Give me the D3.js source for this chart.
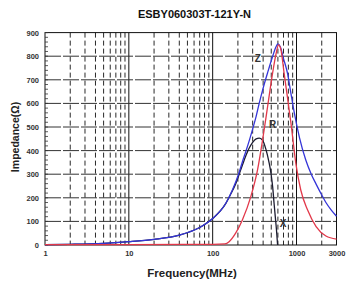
<!DOCTYPE html>
<html>
<head>
<meta charset="utf-8">
<script src="https://cdn.jsdelivr.net/npm/d3@7"></script>
<style>
  body { margin: 0; background: #fff; }
  text { font-family: "Liberation Sans", Arial, sans-serif; }
</style>
</head>
<body>
<div id="chart"></div>
<script>
const title = 'ESBY060303T-121Y-N';
const xTicks = [1, 10, 100, 1000, 3000];
const yTicks = [0, 100, 200, 300, 400, 500, 600, 700, 800, 900];

// Z (blue)
const freqZ = [1, 2, 5, 10, 20, 40, 70, 100, 143, 172, 206, 226, 248, 272, 299, 330, 359, 400, 452, 520, 570, 600, 640, 700, 784, 860, 942, 1085, 1290, 1500, 1713, 2000, 2243, 2600, 3000];
const valZ = [1.5, 3, 7, 14, 24, 42, 74, 112, 176, 233, 305, 352, 395, 440, 490, 545, 600, 665, 730, 800, 840, 852, 840, 790, 725, 640, 560, 455, 360, 300, 258, 212, 180, 148, 122];

// R (red)
const freqR = [1, 10, 100, 140, 157, 188, 226, 285, 343, 394, 452, 518, 570, 610, 650, 712, 784, 859, 982, 1124, 1357, 1713, 2243, 3000];
const valR = [2, 2, 3, 5, 14, 50, 106, 205, 318, 445, 586, 727, 810, 848, 830, 727, 620, 516, 346, 233, 148, 78, 38, 25];

// X (black)
const freqX = [1, 2, 5, 10, 20, 40, 70, 100, 143, 172, 188, 206, 226, 250, 272, 300, 330, 359, 390, 432, 470, 496, 520, 540, 560, 577, 595];
const valX = [1.5, 3, 7, 14, 24, 42, 74, 112, 175, 230, 258, 298, 338, 380, 410, 435, 450, 453, 446, 405, 350, 304, 245, 177, 115, 64, 0];

const width = 348;
const height = 285;
const plotLeft = 45;
const plotRight = 336.5;
const plotTop = 32.6;
const plotBottom = 245;

const svg = d3.select('#chart')
  .append('svg')
  .attr('width', width)
  .attr('height', height);

const x = d3.scaleLog().domain([1, 3000]).range([plotLeft, plotRight]);
const y = d3.scaleLinear().domain([0, 900]).range([plotBottom, plotTop]);

// vertical grid
const minor = [];
[1, 10, 100, 1000].forEach((d) => {
  for (let k = 2; k <= 9; k += 1) {
    if (d * k < 3000) minor.push(d * k);
  }
});
svg.append('g').selectAll('line')
  .data(minor)
  .enter()
  .append('line')
  .attr('x1', (d) => x(d))
  .attr('x2', (d) => x(d))
  .attr('y1', plotTop)
  .attr('y2', plotBottom)
  .attr('stroke', '#111')
  .attr('stroke-width', 0.9)
  .attr('stroke-dasharray', '5,3');

svg.append('g').selectAll('line')
  .data([10, 100, 1000])
  .enter()
  .append('line')
  .attr('x1', (d) => x(d))
  .attr('x2', (d) => x(d))
  .attr('y1', plotTop)
  .attr('y2', plotBottom)
  .attr('stroke', '#111')
  .attr('stroke-width', 1);

// horizontal grid
svg.append('g').selectAll('line')
  .data(yTicks.slice(1, -1))
  .enter()
  .append('line')
  .attr('x1', plotLeft)
  .attr('x2', plotRight)
  .attr('y1', (d) => y(d))
  .attr('y2', (d) => y(d))
  .attr('stroke', '#333')
  .attr('stroke-width', 1)
  .attr('stroke-dasharray', '16,2');

// frame
svg.append('rect')
  .attr('x', plotLeft)
  .attr('y', plotTop)
  .attr('width', plotRight - plotLeft)
  .attr('height', plotBottom - plotTop)
  .attr('fill', 'none')
  .attr('stroke', '#111')
  .attr('stroke-width', 1);

// minor y ticks
svg.append('g').selectAll('line')
  .data(d3.range(0, 901, 20))
  .enter()
  .append('line')
  .attr('x1', plotLeft)
  .attr('x2', plotLeft + 3)
  .attr('y1', (d) => y(d))
  .attr('y2', (d) => y(d))
  .attr('stroke', '#333')
  .attr('stroke-width', 0.8);

// axes labels
const yAxis = d3.axisLeft(y).tickValues(yTicks).tickSize(0).tickPadding(6);
svg.append('g')
  .attr('transform', `translate(${plotLeft},0)`)
  .call(yAxis)
  .call((g) => g.select('.domain').remove())
  .selectAll('text')
  .attr('font-size', 7.5)
  .attr('font-weight', 'bold')
  .attr('fill', '#333')
  .attr('font-family', '"Liberation Sans", Arial, sans-serif');

const xAxis = d3.axisBottom(x).tickValues(xTicks).tickFormat(d3.format('d')).tickSize(0).tickPadding(6);
svg.append('g')
  .attr('transform', `translate(0,${plotBottom})`)
  .call(xAxis)
  .call((g) => g.select('.domain').remove())
  .selectAll('text')
  .attr('font-size', 7.5)
  .attr('font-weight', 'bold')
  .attr('fill', '#333')
  .attr('font-family', '"Liberation Sans", Arial, sans-serif');

// curves
const line = d3.line()
  .x((d) => x(d[0]))
  .y((d) => y(d[1]))
  .curve(d3.curveMonotoneX);

const series = [
  { f: freqX, v: valX, color: '#1c1c30' },
  { f: freqZ, v: valZ, color: '#3535d8' },
  { f: freqR, v: valR, color: '#e2384a' },
];

svg.append('g').selectAll('path')
  .data(series)
  .enter()
  .append('path')
  .attr('d', (s) => line(s.f.map((f, i) => [f, s.v[i]])))
  .attr('fill', 'none')
  .attr('stroke', (s) => s.color)
  .attr('stroke-width', 1.3);

// curve labels
const labels = [
  { t: 'Z', f: 345, v: 775 },
  { t: 'R', f: 520, v: 495 },
  { t: 'X', f: 690, v: 75 },
];
svg.append('g').selectAll('text')
  .data(labels)
  .enter()
  .append('text')
  .attr('x', (d) => x(d.f))
  .attr('y', (d) => y(d.v))
  .attr('text-anchor', 'middle')
  .attr('font-size', 10)
  .attr('font-weight', 'bold')
  .attr('fill', '#333')
  .text((d) => d.t);

// titles
svg.append('text')
  .attr('x', 194.5)
  .attr('y', 18)
  .attr('text-anchor', 'middle')
  .attr('font-size', 11)
  .attr('font-weight', 'bold')
  .attr('fill', '#111')
  .text(title);

svg.append('text')
  .attr('x', 192)
  .attr('y', 276.5)
  .attr('text-anchor', 'middle')
  .attr('font-size', 11.5)
  .attr('font-weight', 'bold')
  .attr('fill', '#222')
  .text('Frequency(MHz)');

svg.append('text')
  .attr('transform', 'translate(19,137) rotate(-90)')
  .attr('text-anchor', 'middle')
  .attr('font-size', 10.5)
  .attr('font-weight', 'bold')
  .attr('fill', '#222')
  .text('Impedance(Ω)');
</script>
</body>
</html>
